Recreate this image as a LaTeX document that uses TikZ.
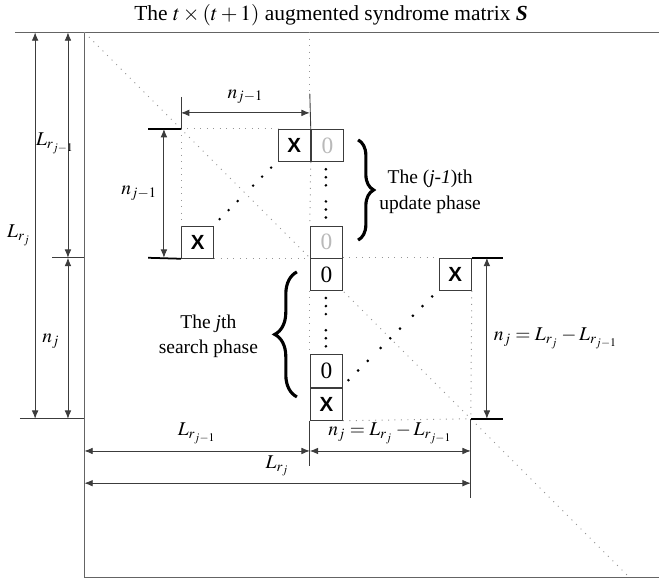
\documentclass[tikz,border=0pt]{standalone}
\usepackage{amsmath}
\usepackage{mathptmx}
\usepackage[no-math]{fontspec}
\setmainfont{Liberation Serif}
\newfontfamily\cellfont{Liberation Sans}
\usepackage{xcolor}
\definecolor{edgegray}{RGB}{100,100,100}
\definecolor{dimgray}{RGB}{60,60,60}
\definecolor{guidegray}{RGB}{150,150,150}
\definecolor{zerogray}{RGB}{185,185,185}
\usetikzlibrary{arrows.meta, positioning, calc, decorations.pathreplacing}

\begin{document}
\begin{tikzpicture}[x=5.8mm, y=-5.8mm,
  cell/.style={draw=dimgray, fill=white, line width=0.5pt, minimum size=5.8mm, inner sep=0pt, anchor=north west},
  xcell/.style={cell, font=\cellfont\bfseries\fontsize{10.5}{10.5}\selectfont},
  zcell/.style={cell, font=\fontsize{12}{12}\selectfont},
  frame/.style={draw=edgegray, line width=0.8pt},
  dimline/.style={draw=dimgray, line width=0.45pt, {Latex[length=1.5mm,width=1.2mm]}-{Latex[length=1.5mm,width=1.2mm]}},
  thin tick/.style={draw=dimgray, line width=0.45pt},
  bold tick/.style={draw=black, line width=0.9pt},
  guide/.style={draw=guidegray, line width=0.5pt, dash pattern=on 0.5pt off 2.8pt},
  phase/.style={draw=black, line width=1.6pt, decorate, decoration={brace, amplitude=#1}},
  phase text/.style={font=\fontsize{10}{13}\selectfont, align=center}]

  \useasboundingbox (-5.621,-4.006) rectangle (14.845,13.975);

  % title
  \node[font=\fontsize{11}{13}\selectfont] (title) at (4.66,-3.55)
    {The $t\times(t+1)$ augmented syndrome matrix \textbf{\textit{S}}};

  % corners of the matrix and of the two blocks
  \coordinate (TL) at (-3,-3);
  \coordinate (B0) at (0,0);
  \coordinate (B2) at (9,9);
  \coordinate (DE) at (13.93,13.93);

  % frame of S (right side runs off the page)
  \draw[frame] (-5.16,-3) -- (14.845,-3);
  \draw[frame] (TL) -- (-3,13.93) -- (14.845,13.93);

  % main diagonal
  \draw[guide] (TL) -- (DE);
  \draw[guide] (4,-3) -- (4,-1.1);

  % cells
  \node[xcell] (Xa) at (3,0) {X};
  \node[zcell, text=zerogray, right=0pt of Xa] (Za) {0};
  \node[xcell] (Xb) at (0,3) {X};
  \node[zcell, text=zerogray] (Zb) at (4,3) {0};
  \node[zcell] (Zc) at (4,4) {0};
  \node[xcell] (Xc) at (8,4) {X};
  \node[zcell] (Zd) at (4,7) {0};
  \node[xcell, below=0pt of Zd] (Xd) {X};

  % block outlines
  \draw[guide] (B0) -- (Xa.north west);
  \draw[guide] (B0) -- (Xb.north west);
  \draw[guide] (Za.south west) -- (Zb.north west);
  \draw[guide] (Xb.south east) -- (Zb.south west);
  \draw[guide] (Zc.north east) -- (Xc.north west);
  \draw[guide] (Zc.south west) -- (Zd.north west);
  \draw[guide] (Xc.south east) -- (B2);
  \draw[guide] (Xd.south east) -- (B2);

  % dots
  \foreach \t in {0.2,0.48,0.76,1.24,1.52,1.8}
    \fill (1+\t,3-\t) circle (0.045);
  \foreach \y in {1.25,1.5,1.75,2.25,2.5,2.75}
    \fill (4.5,\y) circle (0.045);
  \foreach \y in {5.25,5.5,5.75,6.25,6.5,6.75}
    \fill (4.5,\y) circle (0.045);
  \foreach \t in {0.2,0.5,0.8,1.2,1.5,1.8,2.2,2.5,2.8}
    \fill (5+\t,8-\t) circle (0.045);

  % n_{j-1} across the top block
  \draw[thin tick] (0,-1.0) -- (B0);
  \draw[thin tick] (4,-1.1) -- (Za.north west);
  \coordinate (hA) at (0,-0.5);
  \coordinate (hB) at (4,-0.5);
  \draw[dimline] (hA) -- (hB) node[midway, above=1pt] (nh) {$n_{j-1}$};

  % n_{j-1} down the top block
  \draw[bold tick] (-1.02,0) -- (B0);
  \draw[bold tick] (-1.02,4) -- (Xb.south west);
  \coordinate (vA) at (-0.53,0);
  \coordinate (vB) at (-0.53,4);
  \draw[dimline] (vA) -- (vB) node[midway, left=0pt] (nv) {$n_{j-1}$};

  % left side
  \coordinate (oT) at (-4.53,-3);
  \coordinate (oB) at (-4.53,9);
  \coordinate (iT) at (-3.51,-3);
  \coordinate (iM) at (-3.51,4);
  \coordinate (iB) at (-3.51,9);
  \draw[thin tick] (-4.0,4) -- (-3,4);
  \draw[thin tick] (-5.0,9) -- (-3,9);
  \draw[dimline] (oT) -- (oB);
  \draw[dimline] (iT) -- (iM);
  \draw[dimline] (iM) -- (iB);
  \node (lrj) at (-5.03,3.3) {$L_{r_j}$};
  \node (lrjm) at (-3.9,0.45) {$L_{r_{j-1}}$};
  \node (nj) at (-4.04,6.6) {$n_j$};

  % right side
  \draw[bold tick] (Xc.north east) -- (10,4);
  \draw[bold tick] (B2) -- (10,9);
  \coordinate (rA) at (9.5,4);
  \coordinate (rB) at (9.5,9);
  \draw[dimline] (rA) -- (rB) node[midway, right=0pt] (nr) {$n_j = L_{r_j} - L_{r_{j-1}}$};

  % bottom
  \draw[thin tick] (Xd.south west) -- (4,10.47);
  \draw[thin tick] (B2) -- (9,11.46);
  \coordinate (bA) at (-3,10);
  \coordinate (bM) at (4,10);
  \coordinate (bB) at (9,10);
  \coordinate (cA) at (-3,11);
  \coordinate (cB) at (9,11);
  \draw[dimline] (bA) -- (bM) node[midway, above=0pt] (blr) {$L_{r_{j-1}}$};
  \draw[dimline] (bM) -- (bB) node[midway, above=0pt] (bnj) {$n_j = L_{r_j} - L_{r_{j-1}}$};
  \draw[dimline] (cA) -- (cB) node[midway, above=0pt] (blrj) {$L_{r_j}$};

  % phases
  \coordinate (ruT) at (5.5,0.34);
  \coordinate (ruB) at (5.5,3.45);
  \draw[phase=2.8mm] (ruT) -- (ruB);
  \node[phase text, anchor=west] (upd) at (5.95,1.95) {The (\textit{j-1})th\\update phase};
  \coordinate (lsT) at (3.6,4.44);
  \coordinate (lsB) at (3.6,8.32);
  \draw[phase=4mm] (lsB) -- (lsT);
  \node[phase text] (srch) at (0.85,6.43) {The \textit{j}th\\search phase};
\end{tikzpicture}
\end{document}
